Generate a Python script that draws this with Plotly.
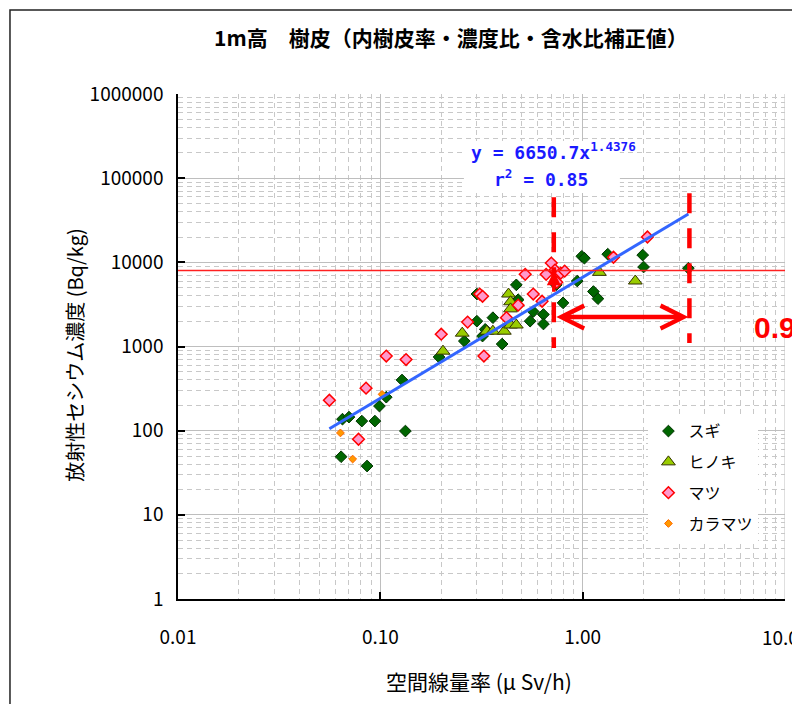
import numpy as np
import plotly.graph_objects as go

# ---- data ----
sugi_x = [0.064, 0.065, 0.070, 0.081, 0.086, 0.094, 0.099, 0.107, 0.128, 0.133,
          0.195, 0.26, 0.30, 0.30, 0.32, 0.33, 0.36, 0.40, 0.47, 0.48,
          0.55, 0.57, 0.64, 0.64, 0.74, 0.80, 0.94, 0.99, 1.02, 1.13,
          1.19, 1.33, 1.98, 2.0, 3.33]
sugi_y = [49, 137, 145, 130, 38, 130, 196, 250, 400, 99,
          750, 1160, 2000, 4200, 1330, 1600, 2200, 1070, 5400, 3600,
          2000, 2600, 2400, 1850, 5400, 3300, 6000, 11800, 11200, 4500,
          3700, 12500, 12200, 8800, 8500]

hinoki_x = [0.204, 0.254, 0.336, 0.36, 0.41, 0.44, 0.47, 0.43, 0.44, 0.44, 1.21, 1.82]
hinoki_y = [880, 1440, 1520, 1520, 1520, 1800, 1800, 4200, 3400, 2800, 7600, 6000]

matsu_x = [0.056, 0.078, 0.085, 0.107, 0.134, 0.20, 0.27, 0.325, 0.31, 0.32,
           0.42, 0.48, 0.52, 0.57, 0.63, 0.66, 0.70, 0.73, 0.78, 0.815,
           0.745, 1.42, 2.09]
matsu_y = [230, 79, 320, 770, 700, 1400, 1950, 770, 4200, 3950,
           2200, 3100, 7200, 4200, 3450, 7200, 9800, 8100, 7450, 7850,
           5800, 11500, 20000]

karamatsu_x = [0.0635, 0.073, 0.102]
karamatsu_y = [94, 46, 270]

fit_a = 6650.7
fit_b = 1.4376
fit_r2 = 0.85
fit_x_range = [0.056, 3.33]

threshold = 8000
marker_x = [0.72, 3.37]           # red dashed verticals
marker_y_left = [957, 59500]
marker_y_right = [1100, 66400]
arrow_y = 2234
up_arrow_y = [4300, 7860]
ratio_text = "0.98"

x_tickvals = [0.01, 0.1, 1, 10]
x_ticktext = ["0.01", "0.10", "1.00", "10.00"]
y_tickvals = [1, 10, 100, 1000, 10000, 100000, 1000000]
y_ticktext = ["1", "10", "100", "1000", "10000", "100000", "1000000"]

title_text = "1m高　樹皮（内樹皮率・濃度比・含水比補正値）"
x_title = "空間線量率 (μ Sv/h)"
y_title = "放射性セシウム濃度 (Bq/kg)"

FONT = "Noto Sans CJK JP"

fig = go.Figure()

fig.add_trace(go.Scatter(x=sugi_x, y=sugi_y, mode="markers", name="スギ", legendgroup="a",
                         marker=dict(symbol="diamond", size=9, color="#006600",
                                     line=dict(color="#003300", width=1))))
fig.add_trace(go.Scatter(x=hinoki_x, y=hinoki_y, mode="markers", name="ヒノキ", legendgroup="b",
                         marker=dict(symbol="triangle-up", size=12, color="#99CC00",
                                     line=dict(color="#333300", width=1))))
fig.add_trace(go.Scatter(x=matsu_x, y=matsu_y, mode="markers", name="マツ", legendgroup="c",
                         marker=dict(symbol="diamond", size=9, color="#FF99CC",
                                     line=dict(color="#FF0000", width=1.5))))
fig.add_trace(go.Scatter(x=karamatsu_x, y=karamatsu_y, mode="markers", name="カラマツ", legendgroup="d",
                         marker=dict(symbol="diamond", size=6, color="#FF9900",
                                     line=dict(color="#FF6600", width=1))))

fx = np.geomspace(fit_x_range[0], fit_x_range[1], 20)
fig.add_trace(go.Scatter(x=fx, y=fit_a * fx ** fit_b, mode="lines", showlegend=False,
                         line=dict(color="#3366FF", width=3), hoverinfo="skip"))

minor_x = [m * 10.0 ** e for e in range(-2, 1) for m in range(2, 10)]
minor_y = [m * 10.0 ** e for e in range(0, 6) for m in range(2, 10)]

grid_major = "#BEBEBE"
grid_minor = "#C8C8C8"

fig.update_xaxes(type="log", range=[-2, 1], tickvals=x_tickvals[:3], ticktext=x_ticktext[:3],
                 ticks="inside", ticklen=7, tickwidth=1.5, tickcolor="black",
                 showline=True, linecolor="black", linewidth=1.5,
                 showgrid=True, gridcolor=grid_major, gridwidth=1, zeroline=False,
                 minor=dict(tickvals=minor_x + [x_tickvals[3]], showgrid=True, gridcolor=grid_minor,
                            griddash="5px,4px", gridwidth=1, ticks=""),
                 tickfont=dict(family=FONT, size=19, color="black"),
                 ticklabelstandoff=20)
fig.update_yaxes(type="log", range=[0, 6], tickvals=y_tickvals, ticktext=y_ticktext,
                 ticks="inside", ticklen=7, tickwidth=1.5, tickcolor="black",
                 showline=True, linecolor="black", linewidth=1.5,
                 showgrid=True, gridcolor=grid_major, gridwidth=1, zeroline=False,
                 minor=dict(tickvals=minor_y, showgrid=True, gridcolor=grid_minor,
                            griddash="5px,4px", gridwidth=1, ticks=""),
                 tickfont=dict(family=FONT, size=19, color="black"),
                 ticklabelstandoff=9)

shapes = []
# outer chart frame
shapes.append(dict(type="rect", xref="paper", yref="paper", x0=-0.2768, x1=1.04, y0=-0.23, y1=1.1663,
                   line=dict(color="#222222", width=1.5), fillcolor="rgba(0,0,0,0)", layer="below"))
# right-most major grid line (10.00)
shapes.append(dict(type="line", xref="x", yref="paper", x0=x_tickvals[3], x1=x_tickvals[3], y0=0, y1=1,
                   line=dict(color=grid_major, width=1), layer="below"))
# threshold line
shapes.append(dict(type="line", xref="paper", yref="y", x0=0, x1=1, y0=threshold, y1=threshold,
                   line=dict(color="#FF2020", width=1.5)))
# red dashed verticals
shapes.append(dict(type="line", xref="x", yref="y", x0=marker_x[0], x1=marker_x[0],
                   y0=marker_y_left[1], y1=marker_y_left[0],
                   line=dict(color="#FF0000", width=4.5, dash="20px,15px")))
shapes.append(dict(type="line", xref="x", yref="y", x0=marker_x[1], x1=marker_x[1],
                   y0=marker_y_right[1], y1=marker_y_right[0],
                   line=dict(color="#FF0000", width=4.5, dash="20px,15px")))
# white box behind the equation
shapes.append(dict(type="rect", xref="paper", yref="paper", x0=0.471, x1=0.728, y0=0.804, y1=0.907,
                   line=dict(width=0), fillcolor="white", layer="above"))

annotations = []
annotations.append(dict(text="<b>" + title_text + "</b>", xref="paper", yref="paper",
                        x=0.4498, y=1.113, showarrow=False, xanchor="center", yanchor="middle",
                        font=dict(family=FONT, size=21, color="black")))
annotations.append(dict(text=y_title, xref="paper", yref="paper", x=-0.171, y=0.482,
                        textangle=-90, showarrow=False, xanchor="center", yanchor="middle",
                        font=dict(family=FONT, size=20, color="black")))
annotations.append(dict(text=x_title, xref="paper", yref="paper", x=0.4967, y=-0.162,
                        showarrow=False, xanchor="center", yanchor="middle",
                        font=dict(family=FONT, size=21, color="black")))
# last x tick label (kept as text so it is not dropped at the edge)
annotations.append(dict(text=x_ticktext[3], xref="paper", yref="paper", x=1.0, y=-0.0752,
                        showarrow=False, xanchor="center", yanchor="middle",
                        font=dict(family=FONT, size=19, color="black")))
annotations.append(dict(text="<b>y = %sx<sup>%s</sup></b>" % (fit_a, fit_b), xref="paper", yref="paper",
                        x=0.618, y=0.887, showarrow=False, xanchor="center", yanchor="middle",
                        font=dict(family="DejaVu Sans Mono", size=18, color="#1A1AFF")))
annotations.append(dict(text="<b>r<sup>2</sup> = %s</b>" % fit_r2, xref="paper", yref="paper",
                        x=0.598, y=0.834, showarrow=False, xanchor="center", yanchor="middle",
                        font=dict(family="DejaVu Sans Mono", size=18, color="#1A1AFF")))
annotations.append(dict(text="<b>" + ratio_text + "</b>", xref="paper", yref="paper",
                        x=0.9456, y=0.5386, showarrow=False, xanchor="left", yanchor="middle",
                        font=dict(family="Liberation Sans", size=30, color="#FF0000")))
# double-headed arrow
annotations.append(dict(text="", xref="x", yref="y", axref="x", ayref="y",
                        x=np.log10(marker_x[1]) - 0.005, y=np.log10(arrow_y),
                        ax=np.log10(marker_x[0]) + 0.005, ay=np.log10(arrow_y),
                        showarrow=True, arrowhead=5, startarrowhead=5, arrowside="end+start",
                        arrowwidth=4.5, arrowsize=1, startarrowsize=1, arrowcolor="#FF0000"))
# small up arrow on the left dashed line
annotations.append(dict(text="", xref="x", yref="y", axref="x", ayref="y",
                        x=np.log10(marker_x[0]), y=np.log10(up_arrow_y[1]),
                        ax=np.log10(marker_x[0]), ay=np.log10(up_arrow_y[0]),
                        showarrow=True, arrowhead=2, arrowwidth=3.5, arrowsize=0.8, arrowcolor="#FF0000"))

# page body has an 8px margin: figure is 792x696 so the plot lands where the reference has it
fig.update_layout(width=792, height=696,
                  margin=dict(l=170, r=15, t=86, b=105),
                  plot_bgcolor="white", paper_bgcolor="white",
                  font=dict(family=FONT, size=16, color="black"),
                  shapes=shapes, annotations=annotations,
                  showlegend=True,
                  legend=dict(x=0.775, y=0.366, xanchor="left", yanchor="top",
                              bgcolor="white", borderwidth=0, tracegroupgap=7,
                              font=dict(family=FONT, size=16, color="black")),
                  hovermode=False)

fig.write_html("out.html")
